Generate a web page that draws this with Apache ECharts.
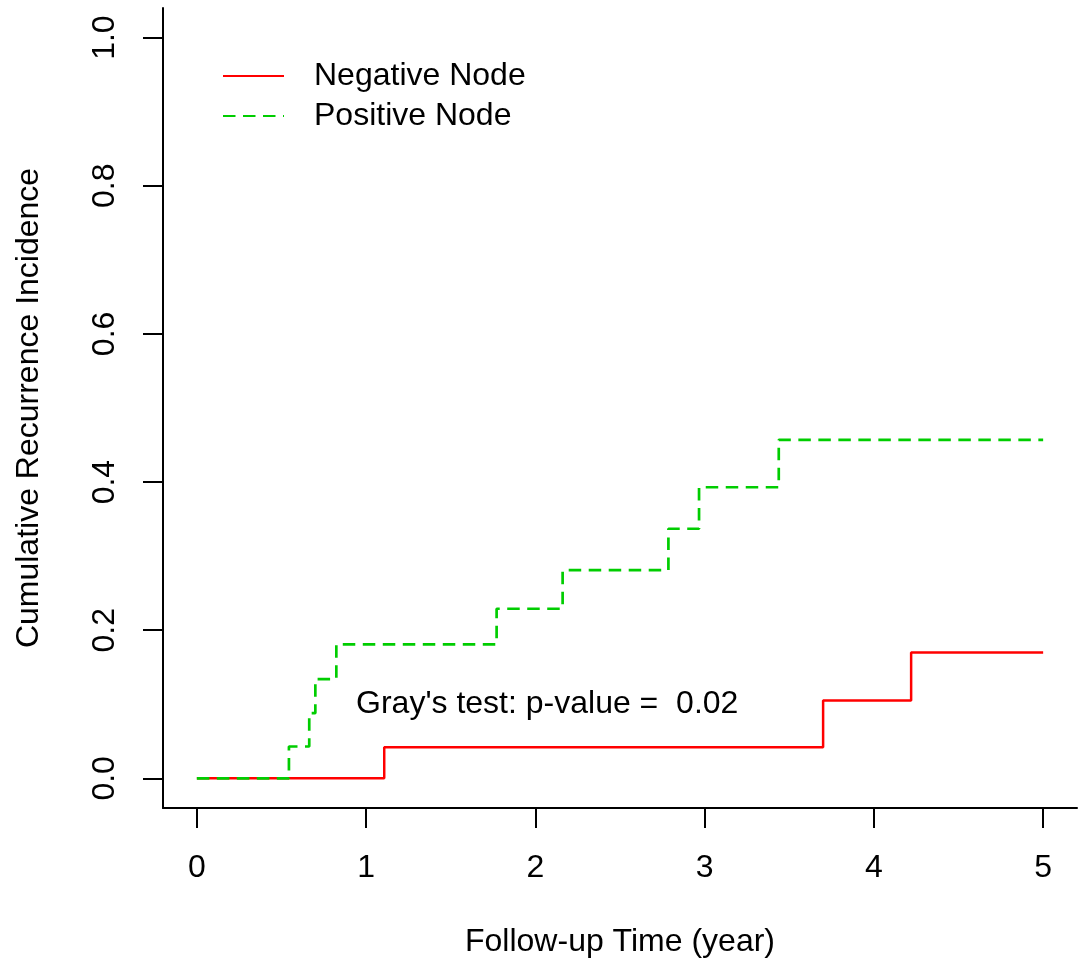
<!DOCTYPE html>
<html>
<head>
<meta charset="utf-8">
<script src="https://cdn.jsdelivr.net/npm/echarts@6/dist/echarts.min.js"></script>
<style>
  html, body { margin: 0; padding: 0; background: #fff; }
  #chart { width: 1083px; height: 962px; }
</style>
</head>
<body>
<div id="chart"></div>
<script>
// cumulative incidence curves
const timesNeg = [0, 1.107, 3.70, 4.22, 5.0];
const cifNeg = [0, 0.042, 0.105, 0.170, 0.170];
const timesPos = [0, 0.544, 0.664, 0.70, 0.824, 1.771, 2.161, 2.786, 2.967, 3.438, 5.0];
const cifPos = [0, 0.043, 0.088, 0.134, 0.181, 0.229, 0.281, 0.337, 0.393, 0.457, 0.457];

const xTicks = [0, 1, 2, 3, 4, 5];
const yTicks = [0, 0.2, 0.4, 0.6, 0.8, 1.0];
const seriesNames = ['Negative Node', 'Positive Node'];
const testText = "Gray's test: p-value =  0.02";
const testPos = [2.07, 0.1];

const FONT = '"Liberation Sans", Arial, sans-serif';

function pairs(xs, ys) {
  return xs.map((x, i) => [x, ys[i]]);
}

const axisLine = { show: true, onZero: false, lineStyle: { color: '#000', width: 2 } };
const tick = { show: true, length: 20, lineStyle: { color: '#000', width: 2 } };

const chart = echarts.init(document.getElementById('chart'));
chart.setOption({
  animation: false,
  backgroundColor: '#fff',
  textStyle: { fontFamily: FONT },
  grid: { left: 163, right: 6, top: 8, bottom: 154, containLabel: false, outerBoundsMode: 'none' },
  legend: {
    data: seriesNames,
    orient: 'vertical',
    left: 222,
    top: 56,
    padding: 0,
    itemGap: 0,
    itemWidth: 61,
    itemHeight: 14,
    itemStyle: { opacity: 0 },
    textStyle: { fontFamily: FONT, fontSize: 32, color: '#000', lineHeight: 40, padding: [0, 0, 0, 25] }
  },
  xAxis: {
    type: 'value',
    min: -0.2,
    max: 5.2,
    axisLine: axisLine,
    axisTick: Object.assign({ customValues: xTicks }, tick),
    axisLabel: { customValues: xTicks, margin: 44, fontSize: 32, color: '#000', fontFamily: FONT },
    splitLine: { show: false },
    name: 'Follow-up Time (year)',
    nameLocation: 'middle',
    nameGap: 118,
    nameTextStyle: { fontSize: 32, color: '#000', fontFamily: FONT }
  },
  yAxis: {
    type: 'value',
    min: -0.04,
    max: 1.04,
    axisLine: axisLine,
    axisTick: Object.assign({ customValues: yTicks }, tick),
    axisLabel: {
      customValues: yTicks, rotate: 90, margin: 42, fontSize: 32, color: '#000', fontFamily: FONT,
      formatter: v => v.toFixed(1)
    },
    splitLine: { show: false },
    name: 'Cumulative Recurrence Incidence',
    nameLocation: 'middle',
    nameGap: 118,
    nameTextStyle: { fontSize: 32, color: '#000', fontFamily: FONT }
  },
  series: [
    {
      name: seriesNames[0],
      type: 'line',
      step: 'end',
      symbol: 'none',
      data: pairs(timesNeg, cifNeg),
      lineStyle: { color: '#FF0000', width: 2.5, type: 'solid' },
      itemStyle: { color: '#FF0000' }
    },
    {
      name: seriesNames[1],
      type: 'line',
      step: 'end',
      symbol: 'none',
      data: pairs(timesPos, cifPos),
      lineStyle: { color: '#00CD00', width: 2.7, type: [12.5, 7.5] },
      itemStyle: { color: '#00CD00' }
    },
    {
      name: 'test',
      type: 'scatter',
      symbolSize: 0,
      silent: true,
      data: [testPos],
      itemStyle: { opacity: 1, color: '#000' },
      label: {
        show: true,
        position: 'inside',
        formatter: testText,
        fontSize: 32,
        color: '#000',
        opacity: 1,
        fontFamily: FONT
      }
    }
  ]
});
</script>
</body>
</html>
